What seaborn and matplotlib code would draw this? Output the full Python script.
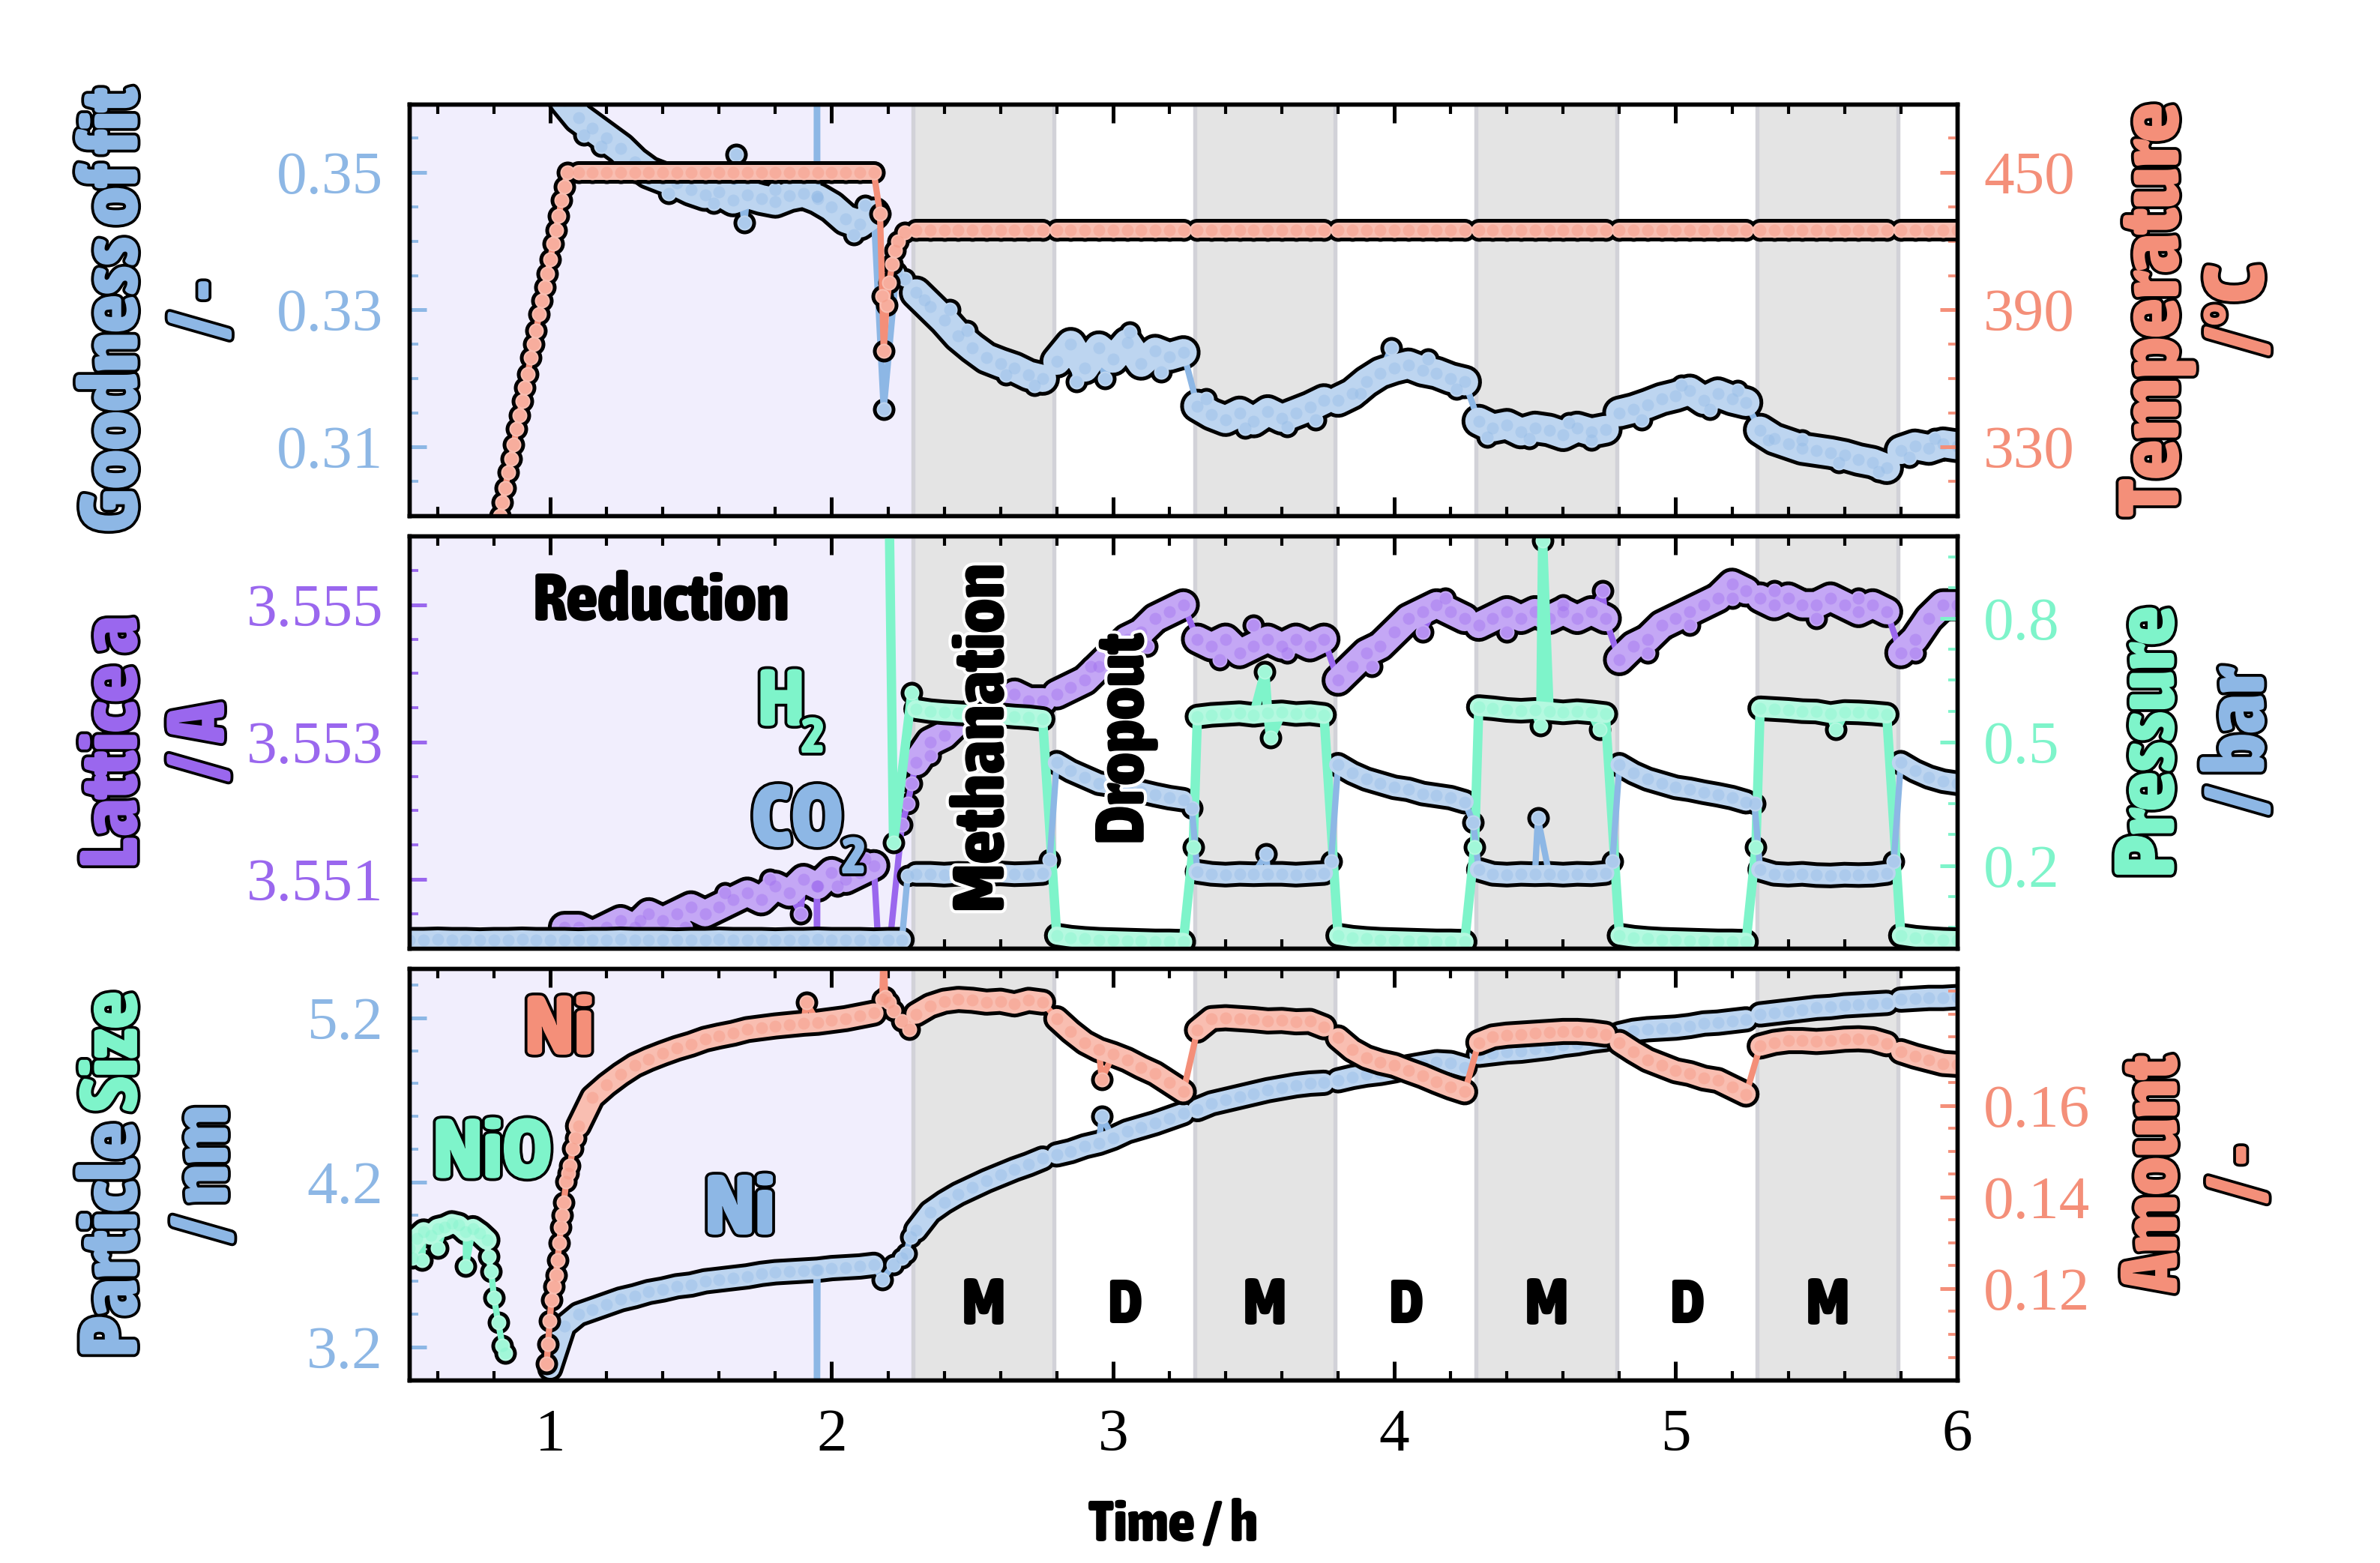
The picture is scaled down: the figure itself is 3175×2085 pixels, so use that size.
import numpy as np
import matplotlib
matplotlib.use("Agg")
import matplotlib.pyplot as plt
import matplotlib.patheffects as pe
from matplotlib.colors import to_rgb
from matplotlib.ticker import MultipleLocator
from matplotlib import font_manager
from matplotlib.font_manager import FontProperties
from matplotlib.textpath import TextPath
import seaborn as sns

nan = np.nan

# ---------------- data ----------------
phase_edges = [0.5, 2.29, 2.79, 3.29, 3.79, 4.29, 4.79, 5.29, 5.79, 6.01]
reduction_span = (0.5, 2.29)
methanation_spans = [(2.29, 2.79), (3.29, 3.79), (4.29, 4.79), (5.29, 5.79)]
phase_names = ["M", "D", "M", "D", "M", "D", "M"]
phase_centres = [2.54, 3.04, 3.54, 4.04, 4.54, 5.04, 5.54]
x_ticks = [1, 2, 3, 4, 5, 6]
x_tick_labels = ["1", "2", "3", "4", "5", "6"]

# goodness of fit, sampled every 0.05 h from 1.05 h
gof_t0 = 1.05
gof = [0.3605, 0.3580, 0.3565, 0.3550, 0.3535, 0.3515, 0.3500, 0.3492, 0.3485, 0.3475,
       0.3468, 0.3472, 0.3460, 0.3468, 0.3462, 0.3458, 0.3466, 0.3470, 0.3462, 0.3450,
       0.3432, 0.3425, 0.3440, nan, nan,
       0.3325, 0.3305, 0.3285, 0.3262, 0.3245, 0.3230, 0.3222, 0.3215, 0.3205, 0.3200,
       0.3225, 0.3250, 0.3215, 0.3245, 0.3228, 0.3252, 0.3222, 0.3240, 0.3232, 0.3238,
       0.3160, 0.3148, 0.3140, 0.3150, 0.3138, 0.3152, 0.3142, 0.3150, 0.3158, 0.3168,
       0.3168, 0.3178, 0.3195, 0.3208, 0.3215, 0.3220, 0.3212, 0.3208, 0.3200, 0.3195,
       0.3138, 0.3128, 0.3132, 0.3122, 0.3128, 0.3125, 0.3118, 0.3128, 0.3122, 0.3126,
       0.3150, 0.3155, 0.3162, 0.3170, 0.3175, 0.3182, 0.3168, 0.3178, 0.3170, 0.3165,
       0.3125, 0.3112, 0.3105, 0.3098, 0.3095, 0.3092, 0.3088, 0.3082, 0.3078, 0.3070,
       0.3095, 0.3102, 0.3098, 0.3105, 0.3102]
gof_xt = [1.12, 1.18, 1.42, 1.58, 1.66, 1.69, 1.80, 1.947, 1.948, 1.949, 2.08, 2.12,
          2.185, 2.23, 2.26, 2.33, 2.42, 2.48, 2.62, 2.72, 2.87, 2.97, 3.06, 3.17,
          3.33, 3.47, 3.62, 3.72, 3.88, 3.99, 4.12, 4.22, 4.33, 4.48, 4.62, 4.70,
          4.88, 5.02, 5.12, 5.22, 5.33, 5.45, 5.58, 5.72, 5.83, 5.92]
gof_xv = [0.3555, 0.3538, 0.3470, 0.3455, 0.3526, 0.3427, 0.3475, 0.3465, 0.4000, 0.3465, 0.3410, 0.3452,
          0.3155, 0.3355, 0.3345, 0.3315, 0.3300, 0.3270, 0.3205, 0.3190, 0.3195, 0.3200, 0.3268, 0.3210,
          0.3170, 0.3128, 0.3130, 0.3140, 0.3178, 0.3245, 0.3228, 0.3185, 0.3115, 0.3112, 0.3135, 0.3110,
          0.3140, 0.3190, 0.3155, 0.3182, 0.3110, 0.3110, 0.3078, 0.3065, 0.3085, 0.3112]

# temperature, every 0.05 h from 1.10 h
temp_t0 = 1.10
temp = [450, 450, 450, 450, 450, 450, 450, 450, 450, 450,
        450, 450, 450, 450, 450, 450, 450, 450, 450, 450,
        450, 450, nan, nan,
        425, 425, 425, 425, 425, 425, 425, 425, 425, 425,
        425, 425, 425, 425, 425, 425, 425, 425, 425, 425,
        425, 425, 425, 425, 425, 425, 425, 425, 425, 425,
        425, 425, 425, 425, 425, 425, 425, 425, 425, 425,
        425, 425, 425, 425, 425, 425, 425, 425, 425, 425,
        425, 425, 425, 425, 425, 425, 425, 425, 425, 425,
        425, 425, 425, 425, 425, 425, 425, 425, 425, 425,
        425, 425, 425, 425, 425]
temp_xt = [0.82, 0.83, 0.84, 0.85, 0.86, 0.87, 0.88, 0.89, 0.90, 0.91, 0.92, 0.93, 0.94,
           0.95, 0.96, 0.97, 0.98, 0.99, 1.00, 1.01, 1.02, 1.03, 1.04, 1.05, 1.06,
           2.172, 2.18, 2.185, 2.195, 2.205, 2.215, 2.225, 2.235, 2.26]
temp_xv = [300, 306, 312, 319, 325, 331, 338, 344, 350, 356, 362, 369, 375,
           381, 388, 394, 400, 406, 412, 419, 425, 431, 438, 444, 450,
           432, 396, 372, 392, 402, 410, 416, 420, 424]

# lattice parameter a, every 0.05 h from 1.05 h
lat_t0 = 1.05
lat = [3.5503, 3.5503, 3.5502, 3.5503, 3.5504, 3.5503, 3.5505, 3.5504, 3.5505, 3.5506,
       3.5505, 3.5506, 3.5507, 3.5508, 3.5507, 3.5509, 3.5508, 3.5510, 3.5509, 3.5511,
       3.5510, 3.5511, 3.5512, nan, 3.5518,
       3.5527, 3.5530, 3.5531, 3.5533, 3.5534, 3.5535, 3.5535, 3.5537, 3.5536, 3.5536,
       3.5537, 3.5538, 3.5539, 3.5541, 3.5543, 3.5545, 3.5546, 3.5548, 3.5549, 3.5550,
       3.5545, 3.5544, 3.5545, 3.5543, 3.5544, 3.5545, 3.5544, 3.5545, 3.5544, 3.5545,
       3.5539, 3.5541, 3.5543, 3.5544, 3.5546, 3.5548, 3.5549, 3.5550, 3.5549, 3.5548,
       3.5547, 3.5548, 3.5549, 3.5548, 3.5549, 3.5548, 3.5549, 3.5548, 3.5549, 3.5548,
       3.5542, 3.5544, 3.5545, 3.5547, 3.5548, 3.5549, 3.5550, 3.5551, 3.5553, 3.5552,
       3.5551, 3.5550, 3.5551, 3.5550, 3.5550, 3.5551, 3.5550, 3.5549, 3.5550, 3.5549,
       3.5543, 3.5545, 3.5548, 3.5550, 3.5550]
lat_xt = [1.12, 1.32, 1.48, 1.62, 1.78, 1.89, 1.947, 1.948, 1.949, 2.02, 2.12, 2.18,
          2.27, 2.285, 2.35, 2.55, 2.92, 3.12, 3.38, 3.50, 3.62, 3.92, 4.10, 4.18,
          4.40, 4.60, 4.74, 4.90, 5.05, 5.20, 5.35, 5.50, 5.65, 5.85]
lat_xv = [3.5502, 3.5504, 3.5503, 3.5508, 3.5510, 3.5505, 3.5509, 3.5490, 3.5509, 3.5509, 3.5513, 3.5490,
          3.5521, 3.5524, 3.5528, 3.5537, 3.5541, 3.5544, 3.5542, 3.5547, 3.5543, 3.5541, 3.5546, 3.5551,
          3.5546, 3.5550, 3.5552, 3.5543, 3.5547, 3.5551, 3.5552, 3.5548, 3.5551, 3.5543]

# H2 pressure, every 0.05 h from 2.30 h
h2_t0 = 2.30
h2 = [0.580, 0.575, 0.572, 0.570, 0.568, 0.566, 0.565, 0.562, 0.560, 0.556,
      0.030, 0.025, 0.022, 0.020, 0.019, 0.018, 0.017, 0.016, 0.016, 0.015,
      0.562, 0.566, 0.568, 0.570, 0.566, 0.570, 0.572, 0.568, 0.570, 0.566,
      0.030, 0.025, 0.022, 0.020, 0.019, 0.018, 0.017, 0.016, 0.016, 0.015,
      0.585, 0.582, 0.578, 0.576, 0.578, 0.575, 0.572, 0.575, 0.572, 0.568,
      0.030, 0.025, 0.022, 0.020, 0.019, 0.018, 0.017, 0.016, 0.016, 0.015,
      0.582, 0.580, 0.578, 0.575, 0.574, 0.568, 0.573, 0.572, 0.570, 0.567,
      0.030, 0.025, 0.022, 0.020, 0.019]
h2_xt = [2.20, 2.22, 2.285, 3.285, 3.54, 3.56, 4.285, 4.52, 4.527, 4.73, 5.285, 5.57]
h2_xv = [1.30, 0.256, 0.620, 0.245, 0.670, 0.510, 0.245, 0.540, 0.990, 0.530, 0.245, 0.530]

# CO2 pressure, every 0.05 h from 0.50 h
co2_t0 = 0.50
co2 = [0.020, 0.020, 0.021, 0.020, 0.020, 0.019, 0.020, 0.020, 0.021, 0.020,
       0.020, 0.020, 0.019, 0.020, 0.020, 0.021, 0.020, 0.020, 0.020, 0.019,
       0.020, 0.020, 0.021, 0.020, 0.020, 0.020, 0.019, 0.020, 0.020, 0.021,
       0.020, 0.020, 0.020, 0.019, 0.020, 0.020,
       0.180, 0.180, 0.178, 0.180, 0.179, 0.180, 0.181, 0.179, 0.180, 0.182,
       0.450, 0.430, 0.415, 0.400, 0.395, 0.385, 0.380, 0.372, 0.365, 0.360,
       0.185, 0.180, 0.178, 0.180, 0.179, 0.180, 0.180, 0.178, 0.180, 0.182,
       0.445, 0.425, 0.410, 0.400, 0.390, 0.385, 0.375, 0.370, 0.365, 0.355,
       0.190, 0.180, 0.178, 0.180, 0.179, 0.180, 0.178, 0.180, 0.179, 0.182,
       0.445, 0.425, 0.410, 0.400, 0.390, 0.385, 0.378, 0.372, 0.365, 0.355,
       0.190, 0.180, 0.178, 0.180, 0.177, 0.176, 0.178, 0.177, 0.178, 0.182,
       0.450, 0.430, 0.415, 0.405, 0.400]
co2_xt = [2.27, 2.775, 3.28, 3.545, 3.775, 4.28, 4.51, 4.775, 5.28, 5.775]
co2_xv = [0.175, 0.214, 0.340, 0.228, 0.210, 0.305, 0.315, 0.210, 0.350, 0.210]

# NiO particle size, every 0.025 h from 0.50 h
nio_t0 = 0.50
nio = [3.80, 3.86, 3.90, 3.88, 3.92, 3.93, 3.95, 3.94, 3.90, 3.92, 3.89, 3.85]
nio_xt = [0.51, 0.545, 0.60, 0.70, 0.78, 0.79, 0.80, 0.815, 0.83, 0.84]
nio_xv = [3.74, 3.73, 3.80, 3.69, 3.75, 3.66, 3.50, 3.35, 3.21, 3.165]

# Ni particle size, every 0.05 h from 1.00 h
ni_t0 = 1.00
ni_size = [3.07, 3.33, 3.40, 3.43, 3.46, 3.49, 3.51, 3.535, 3.55, 3.57,
           3.58, 3.60, 3.61, 3.62, 3.63, 3.645, 3.655, 3.66, 3.665, 3.67,
           3.68, 3.685, 3.69, 3.70, nan, 3.74,
           3.91, 4.02, 4.08, 4.13, 4.17, 4.21, 4.245, 4.28, 4.31, 4.345,
           4.37, 4.39, 4.42, 4.44, 4.47, 4.51, 4.535, 4.56, 4.59, 4.62,
           4.645, 4.68, 4.70, 4.72, 4.74, 4.76, 4.775, 4.79, 4.80, 4.805,
           4.82, 4.84, 4.855, 4.865, 4.88, 4.90, 4.915, 4.93, 4.925, 4.90,
           4.975, 4.985, 4.995, 5.00, 5.01, 5.02, 5.035, 5.045, 5.06, 5.07,
           5.10, 5.12, 5.13, 5.135, 5.14, 5.15, 5.165, 5.17, 5.18, 5.19,
           5.22, 5.23, 5.24, 5.25, 5.26, 5.265, 5.275, 5.28, 5.285, 5.29,
           5.31, 5.315, 5.32, 5.32, 5.325]
ni_xt = [1.946, 1.948, 2.18, 2.22, 2.265, 2.28, 2.96]
ni_xv = [3.668, 2.80, 3.61, 3.70, 3.77, 3.87, 4.60]

# Ni amount, every 0.05 h from 1.10 h
amt_t0 = 1.10
amt = [0.1555, 0.1618, 0.1645, 0.1668, 0.1688, 0.1702, 0.1714, 0.1725, 0.1734, 0.1745,
       0.1752, 0.1758, 0.1766, 0.1770, 0.1774, 0.1777, 0.1780, 0.1782, 0.1786, 0.1790,
       0.1796, 0.1802, nan, 0.1785,
       0.1800, 0.1818, 0.1828, 0.1832, 0.1830, 0.1826, 0.1828, 0.1822, 0.1830, 0.1826,
       0.1790, 0.1762, 0.1738, 0.1722, 0.1712, 0.1700, 0.1684, 0.1670, 0.1650, 0.1630,
       0.1765, 0.1790, 0.1792, 0.1790, 0.1788, 0.1785, 0.1786, 0.1783, 0.1784, 0.1772,
       0.1748, 0.1722, 0.1705, 0.1695, 0.1688, 0.1676, 0.1665, 0.1652, 0.1640, 0.1630,
       0.1738, 0.1750, 0.1754, 0.1756, 0.1758, 0.1760, 0.1762, 0.1762, 0.1760, 0.1756,
       0.1738, 0.1718, 0.1700, 0.1688, 0.1676, 0.1670, 0.1660, 0.1655, 0.1640, 0.1625,
       0.1730, 0.1738, 0.1742, 0.1742, 0.1740, 0.1742, 0.1745, 0.1746, 0.1744, 0.1735,
       0.1718, 0.1708, 0.1700, 0.1692, 0.1690]
amt_xt = [0.987, 0.992, 0.998, 1.004, 1.012, 1.02, 1.026, 1.032, 1.038, 1.043, 1.048,
          1.057, 1.064, 1.07, 1.08, 1.09, 1.91, 2.18, 2.185, 2.19, 2.205, 2.22, 2.275, 2.96]
amt_xv = [0.1036, 0.1078, 0.1129, 0.1175, 0.1205, 0.1229, 0.1263, 0.1300, 0.1334, 0.1360, 0.1389,
          0.1435, 0.1452, 0.1468, 0.1506, 0.1530, 0.1825, 0.1833, 0.1950, 0.1837, 0.1825, 0.1808,
          0.1766, 0.1657]

# ---------------- style ----------------
sns.set_style("white")
SERIF = "Liberation Serif"
plt.rcParams["font.family"] = [SERIF, "DejaVu Serif"]


def pick_heavy_condensed():
    best = None
    for f in font_manager.fontManager.ttflist:
        name = f.name.lower()
        cond = ("condensed" in str(f.stretch).lower() or "narrow" in name
                or "condensed" in name or "cond" in f.fname.lower())
        if not cond or f.style != "normal":
            continue
        w = f.weight if isinstance(f.weight, (int, float)) else font_manager.weight_dict.get(f.weight, 400)
        if w < 600:
            continue
        if best is None or w > best[0]:
            best = (w, f.fname)
    if best:
        return FontProperties(fname=best[1])
    return FontProperties(family="DejaVu Sans", weight="bold")


HEAVY = pick_heavy_condensed()
CAP = TextPath((0, 0), "H", size=1, prop=HEAVY).get_extents().height  # cap height / em

BLUE = "#8DB7E5"
SALMON = "#F48F79"
GREEN = "#7EF4CA"
PURPLE = "#9A67EE"
LAVENDER = "#F1EEFD"
GREY = "#E4E4E4"
EDGE = "#D2D2D8"

D_IN, D_OUT = 4.8, 7.2        # marker / sausage widths in points
OUTLINE = [pe.withStroke(linewidth=1.8, foreground="k")]


def tint(c, f):
    r = np.array(to_rgb(c))
    return tuple(r + (1 - r) * f)


def draw(ax, t0, vals, ext_t, ext_v, color, step=0.05, thin=2.0, fat=1.0, z=2):
    t = np.round(t0 + step * np.arange(len(vals)), 4)
    v = np.asarray(vals, float)
    et = np.asarray(ext_t, float)
    ev = np.asarray(ext_v, float)
    light = tint(color, 0.42)
    w_in = D_IN * fat
    w_out = w_in + (D_OUT - D_IN)

    pg = np.digitize(t, phase_edges)
    px = np.digitize(et, phase_edges)
    runs, pts = [], []
    for k in np.unique(np.concatenate([pg, px])):
        gt, gv = t[pg == k], v[pg == k]
        cur_x, cur_y = [], []
        for a, b in zip(gt, gv):
            if np.isnan(b):
                if len(cur_x) > 1:
                    runs.append((np.array(cur_x), np.array(cur_y)))
                cur_x, cur_y = [], []
            else:
                cur_x.append(a)
                cur_y.append(b)
        if len(cur_x) > 1:
            runs.append((np.array(cur_x), np.array(cur_y)))
        ok = ~np.isnan(gv)
        pts.append((np.concatenate([gt[ok], et[px == k]]),
                    np.concatenate([gv[ok], ev[px == k]])))

    # black outline layer
    for rx, ry in runs:
        sns.lineplot(x=rx, y=ry, ax=ax, color="k", linewidth=w_out, estimator=None, sort=False,
                     solid_capstyle="round", solid_joinstyle="round", zorder=z)
    for mx, my in pts:
        sns.scatterplot(x=mx, y=my, ax=ax, color="k", s=D_OUT ** 2, linewidth=0, zorder=z)

    # thin connecting line through every sample
    at = np.concatenate([t, et])
    av = np.concatenate([v, ev])
    keep = ~np.isnan(av)
    order = np.argsort(at[keep], kind="stable")
    sns.lineplot(x=at[keep][order], y=av[keep][order], ax=ax, color=color, linewidth=thin,
                 estimator=None, sort=False, zorder=z + 0.1)

    # coloured fill layer
    for rx, ry in runs:
        sns.lineplot(x=rx, y=ry, ax=ax, color=light, linewidth=w_in, estimator=None, sort=False,
                     solid_capstyle="round", solid_joinstyle="round", zorder=z + 0.2)
    for mx, my in pts:
        sns.scatterplot(x=mx, y=my, ax=ax, color=light, s=D_IN ** 2, linewidth=0, zorder=z + 0.3)
        sns.scatterplot(x=mx, y=my, ax=ax, color=color, s=(D_IN * 0.8) ** 2, linewidth=0,
                        alpha=0.35, zorder=z + 0.4)


fig = plt.figure(figsize=(3175 / 300, 2085 / 300), dpi=300)
renderer = fig.canvas.get_renderer()
L, W, H = 0.1721, 0.6502, 0.2635
ax_top = fig.add_axes([L, 0.670, W, H])
ax_mid = fig.add_axes([L, 0.3935, W, H])
ax_bot = fig.add_axes([L, 0.117, W, H])
hosts = [ax_top, ax_mid, ax_bot]

for ax in hosts:
    ax.axvspan(*reduction_span, color=LAVENDER, lw=0, zorder=0)
    for a, b in methanation_spans:
        ax.axvspan(a, b, color=GREY, lw=0, zorder=0)
    for e in phase_edges[1:-1]:
        ax.axvline(e, color=EDGE, lw=1.3, zorder=0.5)

tw_top = ax_top.twinx()
tw_mid = ax_mid.twinx()
tw_bot = ax_bot.twinx()
twins = [tw_top, tw_mid, tw_bot]

draw(ax_top, gof_t0, gof, gof_xt, gof_xv, BLUE, fat=1.8)
draw(tw_top, temp_t0, temp, temp_xt, temp_xv, SALMON)
draw(ax_mid, lat_t0, lat, lat_xt, lat_xv, PURPLE, fat=1.7)
draw(tw_mid, h2_t0, h2, h2_xt, h2_xv, GREEN, thin=3.0, fat=1.2)
draw(tw_mid, co2_t0, co2, co2_xt, co2_xv, BLUE, fat=1.2)
draw(ax_bot, nio_t0, nio, nio_xt, nio_xv, GREEN, step=0.025, fat=1.3)
draw(ax_bot, ni_t0, ni_size, ni_xt, ni_xv, BLUE, fat=1.25)
draw(tw_bot, amt_t0, amt, amt_xt, amt_xv, SALMON, fat=1.3)


def style_y(ax, lim, ticks, labels, minor, color):
    ax.set_ylim(*lim)
    ax.set_yticks(ticks)
    ax.set_yticklabels(labels)
    ax.yaxis.set_minor_locator(minor)
    ax.tick_params(axis="y", which="both", direction="in", colors=color,
                   labelsize=19.5, labelfontfamily=SERIF, pad=8.5)
    ax.tick_params(axis="y", which="major", length=5.5, width=1.2)
    ax.tick_params(axis="y", which="minor", length=2.9, width=0.9)
    ax.set_ylabel("")


style_y(ax_top, (0.30, 0.36), [0.31, 0.33, 0.35], ["0.31", "0.33", "0.35"], MultipleLocator(0.005), BLUE)
style_y(tw_top, (300, 480), [330, 390, 450], ["330", "390", "450"], MultipleLocator(15), SALMON)
style_y(ax_mid, (3.550, 3.556), [3.551, 3.553, 3.555], ["3.551", "3.553", "3.555"],
        MultipleLocator(0.0005), PURPLE)
style_y(tw_mid, (0.0, 1.0), [0.2, 0.5, 0.8], ["0.2", "0.5", "0.8"], MultipleLocator(0.075, offset=0.05), GREEN)
style_y(ax_bot, (3.0, 5.5), [3.2, 4.2, 5.2], ["3.2", "4.2", "5.2"], MultipleLocator(0.2), BLUE)
style_y(tw_bot, (0.10, 0.19), [0.12, 0.14, 0.16], ["0.12", "0.14", "0.16"], MultipleLocator(0.005), SALMON)

for ax in hosts:
    ax.set_xlim(0.5, 6.0)
    ax.set_xticks(x_ticks)
    ax.xaxis.set_minor_locator(MultipleLocator(0.2))
    ax.tick_params(axis="x", which="both", direction="in", top=True, bottom=True, colors="k",
                   labelbottom=False)
    ax.tick_params(axis="x", which="major", length=6, width=1.2)
    ax.tick_params(axis="x", which="minor", length=3, width=1.0)
    ax.set_xlabel("")
ax_bot.set_xticklabels(x_tick_labels)
ax_bot.tick_params(axis="x", which="major", labelbottom=True, labelsize=19.5,
                   labelfontfamily=SERIF, pad=9)
for ax in hosts + twins:
    ax.set_xlim(0.5, 6.0)
    for s in ax.spines.values():
        s.set_linewidth(1.3)
        s.set_color("k")


def fit(txt, length_px, cap_px=None):
    # scale the font so the text spans length_px (and, if given, caps are near cap_px tall)
    bb = txt.get_window_extent(renderer)
    length = bb.height if txt.get_rotation() == 90 else bb.width
    k = length_px / length
    if cap_px is not None:
        cap_now = CAP * txt.get_fontsize() * fig.dpi / 72
        k = np.sqrt(k * cap_px / cap_now)
    txt.set_fontsize(txt.get_fontsize() * k)
    return txt.get_fontsize()


def heavy_text(ax, x, y, s, color, length_px, transform, cap_px=None, outline=OUTLINE, **kw):
    t = ax.text(x, y, s, transform=transform, color=color, fontproperties=HEAVY.copy(),
                fontsize=24, path_effects=outline, clip_on=False, zorder=30, **kw)
    fit(t, length_px, cap_px)
    return t


def side_text(ax, x, s, color, length_px=None, size=None):
    t = heavy_text(ax, x, 0.5, s, color, length_px or 100, ax.transAxes,
                   rotation=90, ha="center", va="center")
    if size is not None:
        t.set_fontsize(size)
    return t


s1 = side_text(ax_top, -0.1906, "Goodness of fit", BLUE, 593).get_fontsize()
side_text(ax_top, -0.1339, "/ -", BLUE, size=s1)
s2 = side_text(ax_top, 1.1279, "Temperature", SALMON, 552).get_fontsize()
side_text(ax_top, 1.1831, "/°C", SALMON, size=s2)
s3 = side_text(ax_mid, -0.1906, "Lattice a", PURPLE, 337).get_fontsize()
side_text(ax_mid, -0.1344, "/ A", PURPLE, size=s3)
s4 = side_text(ax_mid, 1.1250, "Pressure", GREEN, 362).get_fontsize()
side_text(ax_mid, 1.1831, "/ bar", BLUE, size=s4)
s5 = side_text(ax_bot, 1.1279, "Amount", SALMON, 316).get_fontsize()
side_text(ax_bot, 1.1831, "/ -", SALMON, size=s5)

# "Particle Size" in two colours, stacked along the rotated baseline
t1 = side_text(ax_bot, -0.1906, "Particle", BLUE, 313)
t2 = side_text(ax_bot, -0.1906, "Size", GREEN, size=t1.get_fontsize())
side_text(ax_bot, -0.1320, "/ nm", BLUE, size=t1.get_fontsize())
h1 = t1.get_window_extent(renderer).height
h2_ = t2.get_window_extent(renderer).height
gap = max(488 - 313 - h2_, 12)
yc = ax_bot.transAxes.transform((0, 0.5))[1]
inv = ax_bot.transAxes.inverted()
t1.set_y(inv.transform((0, yc - (h1 + gap + h2_) / 2 + h1 / 2))[1])
t2.set_y(inv.transform((0, yc + (h1 + gap + h2_) / 2 - h2_ / 2))[1])

# annotations
tm = tw_mid.get_xaxis_transform()
tb = tw_bot.get_xaxis_transform()
heavy_text(tw_mid, 1.396, 0.84, "Reduction", "k", 340, tm, cap_px=65, outline=None,
           ha="center", va="center")
heavy_text(tw_mid, 1.737, 0.5396, "H", GREEN, 54, tm, cap_px=88, ha="left", va="baseline")
heavy_text(tw_mid, 1.892, 0.474, "2", GREEN, 29, tm, cap_px=51, ha="left", va="baseline")
heavy_text(tw_mid, 1.716, 0.2466, "CO", BLUE, 112, tm, cap_px=90, ha="left", va="baseline")
heavy_text(tw_mid, 2.036, 0.181, "2", BLUE, 29, tm, cap_px=54, ha="left", va="baseline")
white = [pe.withStroke(linewidth=2.0, foreground="white")]
heavy_text(tw_mid, 2.54, 0.51, "Methanation", "k", 426, tm, cap_px=75, outline=white,
           rotation=90, ha="center", va="center")
heavy_text(tw_mid, 3.04, 0.507, "Dropout", "k", 266, tm, cap_px=69, outline=white,
           rotation=90, ha="center", va="center")

heavy_text(tw_bot, 1.031, 0.847, "Ni", SALMON, 83, tb, cap_px=88, ha="center", va="center")
heavy_text(tw_bot, 0.794, 0.547, "NiO", GREEN, 146, tb, cap_px=87, ha="center", va="center")
heavy_text(tw_bot, 1.673, 0.411, "Ni", BLUE, 83, tb, cap_px=90, ha="center", va="center")
for xc, name in zip(phase_centres, phase_names):
    heavy_text(tw_bot, xc, 0.18, name, "k", 54 if name == "M" else 40, tb, cap_px=67,
               outline=None, ha="center", va="center")

tt = fig.text(0.493, 0.024, "Time / h", ha="center", va="center", color="k",
              fontproperties=HEAVY.copy(), fontsize=17.5)
fit(tt, 227, 54)

fig.savefig("out.png", dpi=300)
